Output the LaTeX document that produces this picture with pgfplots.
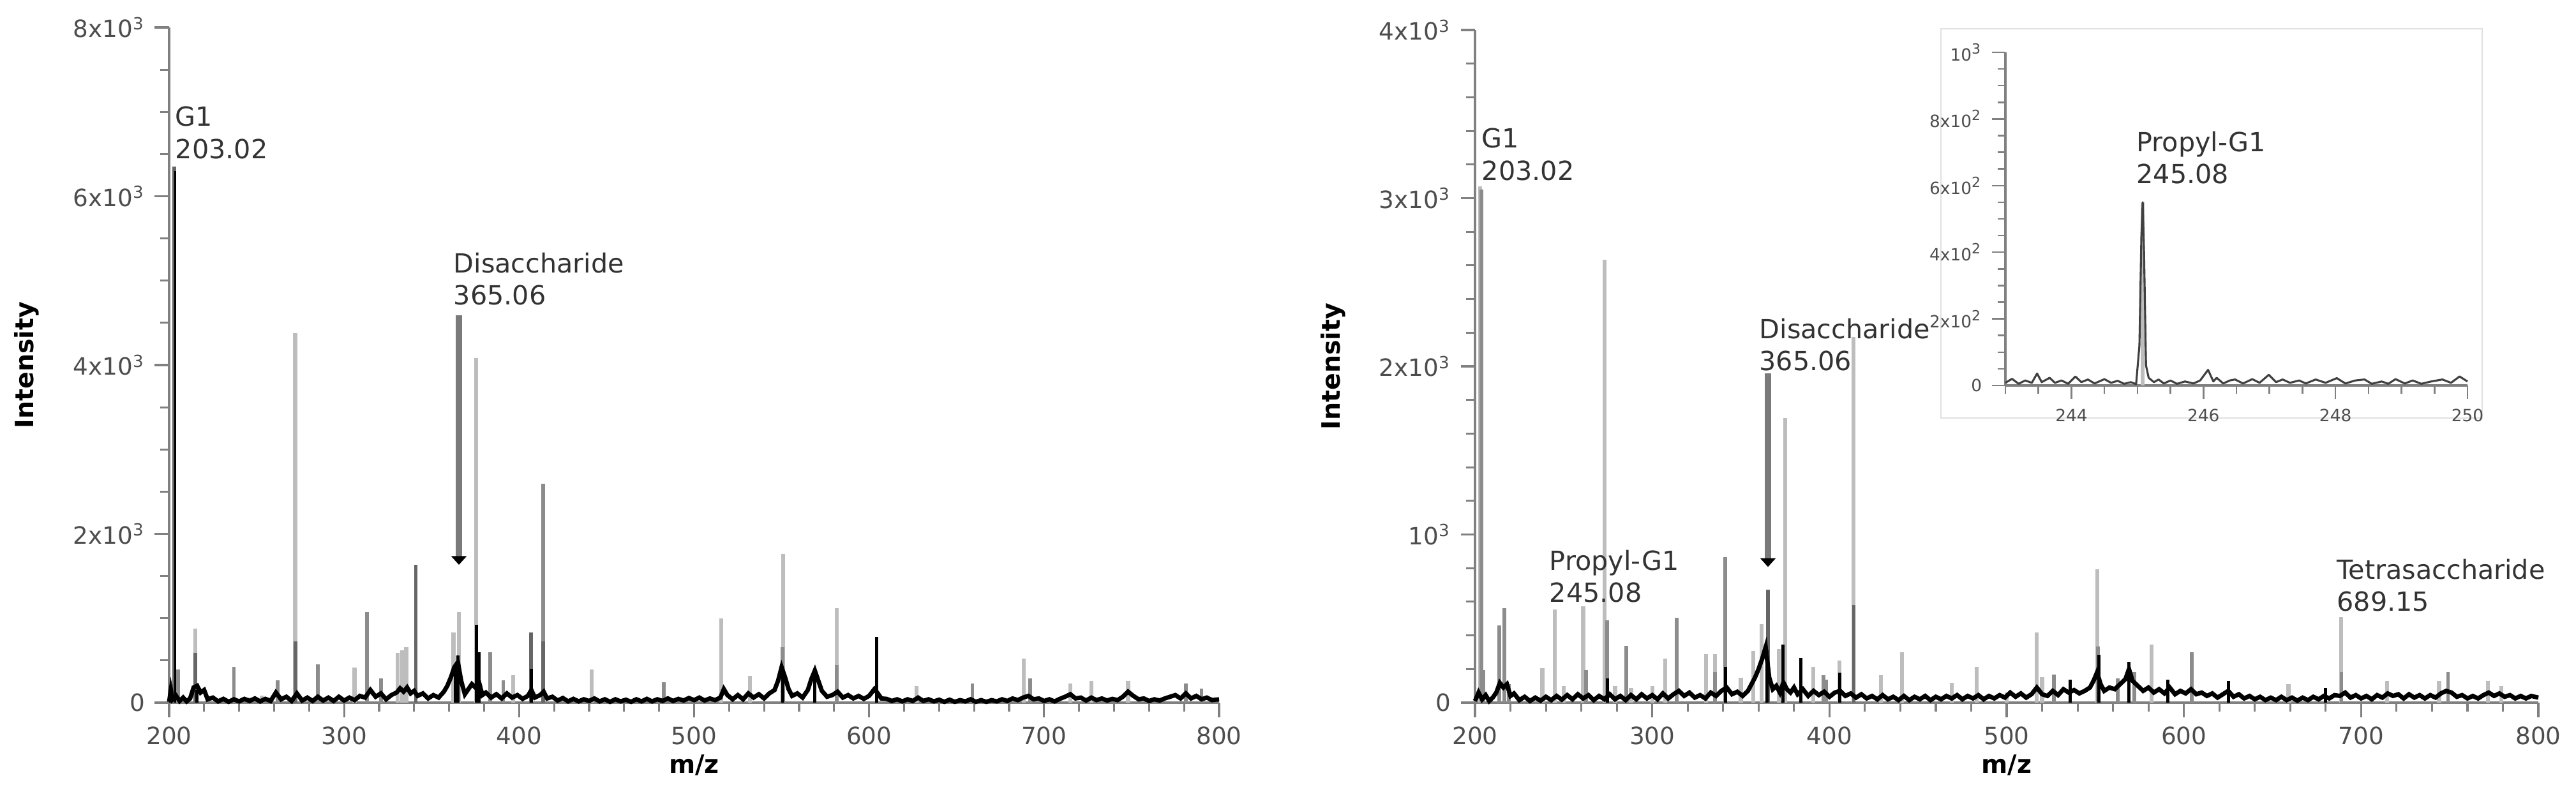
\documentclass[border=0pt]{standalone}
\usepackage{fontspec}
\setmainfont{DejaVu Sans}
\usepackage{pgfplots}
\pgfplotsset{compat=1.18}
\usetikzlibrary{arrows.meta}
\definecolor{axgray}{HTML}{808080}
\definecolor{tklab}{HTML}{4D4D4D}
\definecolor{txt}{HTML}{333333}
\definecolor{lg}{HTML}{BDBDBD}
\definecolor{mg}{HTML}{8C8C8C}
\definecolor{dg}{HTML}{666666}
\definecolor{arrowgray}{HTML}{7A7A7A}

\pgfplotsset{
  msaxis/.style={
    scale only axis, axis x line*=bottom, axis y line*=left,
    axis line style={draw=axgray, line width=0.3mm, -},
    x axis line style={-}, y axis line style={-},
    tick align=outside, tick style={draw=axgray, line width=0.25mm},
    major tick length=1.8mm, minor tick length=1.1mm,
    enlargelimits=false, clip=false,
    tick label style={font=\fontsize{8.5}{10}\selectfont, text=tklab},
    /pgf/number format/assume math mode=true,
    label style={font=\fontsize{9}{11}\selectfont\bfseries, text=black},
  },
  lgs/.style={ycomb, no markers, draw=lg, line width=0.5mm},
  mgs/.style={ycomb, no markers, draw=mg, line width=0.45mm},
  dgs/.style={ycomb, no markers, draw=dg, line width=0.45mm},
  bks/.style={ycomb, no markers, draw=black, line width=0.4mm},
  base/.style={no markers, draw=black, line width=0.55mm, line join=miter},
}
\tikzset{
  lab/.style={anchor=north west, inner sep=0pt, align=left, text=txt,
    font=\fontsize{9.4}{11.5}\selectfont},
  arr/.style={draw=arrowgray, line width=0.75mm,
    -{Triangle[length=1.1mm,width=1.9mm,color=black]}},
}

\begin{document}
\begin{tikzpicture}
\path[use as bounding box] (0,0) rectangle (322.88mm,99.2mm);

% ---------- left spectrum ----------
\begin{axis}[msaxis,
  at={(21.2mm,11.12mm)}, anchor=south west,
  width=131.6mm, height=84.64mm,
  xmin=200, xmax=800, ymin=0, ymax=8000,
  xtick={200,300,...,800}, minor x tick num=4,
  ytick={0,2000,4000,6000,8000},
  yticklabels={0,2x10\textsuperscript{3},4x10\textsuperscript{3},6x10\textsuperscript{3},8x10\textsuperscript{3}},
  minor y tick num=3,
  xlabel={m/z}, ylabel={Intensity},
  xlabel style={at={(axis description cs:0.5,-0.0926)}, anchor=center},
  ylabel style={at={(axis description cs:-0.136,0.5)}, anchor=center},
]
\addplot[lgs] coordinates {
 (215,875) (246,60) (253,80) (272,4380) (306,418) (330.5,590) (333,620)
 (335.5,656) (362.5,830) (365.5,1075) (375.5,4080) (396.5,322) (441.5,397)
 (515.5,1000) (532,320) (550.8,1761) (581.5,1120) (627,194) (688.5,522)
 (715,224) (727,260) (748,254)};
\addplot[mgs] coordinates {
 (205,397) (237,420) (262,262) (285,457) (313,1075) (321,290) (383.5,597)
 (391,268) (413.8,2590) (482.6,245) (550.5,657) (581.5,448) (659,224)
 (692,284) (781,224) (790,164)};
\addplot[dgs] coordinates {
 (203,6350) (215,590) (272.3,725) (341,1636) (406.8,830) (413.8,725)};
\addplot[base] coordinates {
 (200,10)(201,150)(202,40)(204,80)(206,20)(208,60)(210,15)(212,50)(214,180)
 (216,200)(218,120)(220,150)(222,40)(225,60)(228,15)(231,45)(234,10)(237,40)
 (240,15)(243,45)(246,20)(249,50)(252,15)(255,45)(258,20)(261,120)(264,40)
 (267,70)(270,20)(273,110)(276,25)(279,60)(282,20)(285,70)(288,25)(291,60)
 (294,20)(297,70)(300,25)(303,60)(306,30)(309,80)(312,60)(315,150)(318,70)
 (321,110)(324,40)(327,90)(330,120)(332,170)(334,130)(336,180)(338,110)
 (340,140)(342,80)(345,110)(348,50)(351,90)(354,60)(357,130)(359,200)
 (361,300)(363,420)(365,480)(367,250)(369,100)(371,160)(373,220)(375,180)
 (377,250)(379,90)(381,120)(384,60)(387,100)(390,50)(393,110)(396,60)
 (399,90)(402,45)(405,80)(407,150)(409,60)(412,90)(414,130)(416,50)(419,70)
 (422,25)(425,55)(428,15)(431,45)(434,15)(437,40)(440,20)(443,50)(446,15)
 (449,40)(452,10)(455,40)(458,15)(461,35)(464,10)(467,40)(470,15)(473,45)
 (476,15)(479,40)(482,20)(485,50)(488,20)(491,45)(494,25)(497,55)(500,30)
 (503,60)(506,25)(509,50)(512,30)(515,60)(517,160)(519,90)(522,40)(525,90)
 (528,40)(531,110)(534,60)(537,100)(540,50)(543,110)(546,150)(548,260)
 (550,420)(552,300)(554,160)(556,80)(559,110)(562,60)(565,150)(567,280)
 (569,380)(571,260)(573,140)(576,70)(579,90)(582,130)(585,60)(588,90)
 (591,50)(594,80)(597,45)(600,80)(603,160)(605,110)(607,50)(610,45)(613,20)
 (616,40)(619,15)(622,40)(625,20)(628,60)(631,20)(634,40)(637,15)(640,35)
 (643,10)(646,35)(649,10)(652,30)(655,15)(658,40)(661,10)(664,30)(667,10)
 (670,30)(673,15)(676,40)(679,20)(682,50)(685,30)(688,60)(691,80)(694,40)
 (697,50)(700,20)(703,40)(706,15)(709,45)(712,70)(715,100)(718,50)(721,60)
 (724,25)(727,60)(730,30)(733,50)(736,25)(739,45)(742,30)(745,70)(748,130)
 (751,80)(754,40)(757,50)(760,20)(763,40)(766,25)(769,50)(772,70)(775,90)
 (778,50)(781,110)(784,50)(787,80)(790,40)(793,60)(796,30)(800,40)};
\addplot[bks] coordinates {
 (201,140) (216,150) (363.5,420) (365.2,560) (375.8,920)
 (377,600) (407,400) (550.6,418) (569,388) (604.5,776)};
\addplot[ycomb, no markers, draw=black, line width=0.25mm] coordinates {(203.6,6300)};
\node[lab] at (axis cs:203.3,7069) {G1\\203.02};
\node[lab] at (axis cs:362.3,5337) {Disaccharide\\365.06};
\draw[arr] (axis cs:365.6,4590) -- (axis cs:365.6,1633);
\end{axis}

% ---------- right spectrum ----------
\begin{axis}[msaxis,
  at={(184.88mm,11.12mm)}, anchor=south west,
  width=133.28mm, height=84.32mm,
  xmin=200, xmax=800, ymin=0, ymax=4000,
  xtick={200,300,...,800}, minor x tick num=4,
  ytick={0,1000,2000,3000,4000},
  yticklabels={0,10\textsuperscript{3},2x10\textsuperscript{3},3x10\textsuperscript{3},4x10\textsuperscript{3}},
  minor y tick num=4,
  xlabel={m/z}, ylabel={Intensity},
  xlabel style={at={(axis description cs:0.5,-0.0926)}, anchor=center},
  ylabel style={at={(axis description cs:-0.1333,0.5)}, anchor=center},
]
\addplot[lgs] coordinates {
 (203,3070) (238,206) (245.08,554) (250,99) (261,575) (273,2634) (279,99)
 (288,86) (300,99) (307.3,263) (330.4,288) (335.4,288) (350,149) (357,307)
 (361.7,465) (371.5,319) (375.1,1693) (391,214) (405.6,249) (413.5,2175)
 (429,162) (440.9,301) (469,118) (483,213) (500,60) (517,417) (520,150)
 (551,795) (581.7,345) (659,111) (688.7,510) (714.6,130) (744,130)
 (771.5,130) (779,99)};
\addplot[mgs] coordinates {
 (203.6,3050) (204.7,194) (213.7,459) (216.5,560) (219,111) (262.6,194)
 (274.5,490) (285.4,339) (313.7,503) (335.4,181) (341.2,867) (396.6,162)
 (398,136) (526.6,168) (551.5,333) (562.7,143) (572,181) (604.4,301)
 (688.9,181) (749,181)};
\addplot[dgs] coordinates {(365.3,672) (413.8,580)};
\addplot[base] coordinates {
 (200,10)(202,60)(204,20)(206,45)(208,10)(210,30)(212,60)(214,117)(216,90)
 (218,110)(220,40)(222,55)(225,15)(228,35)(231,10)(234,30)(237,12)(240,35)
 (243,15)(246,40)(249,18)(252,45)(255,20)(258,50)(261,25)(264,45)(267,15)
 (270,40)(273,20)(276,50)(279,20)(282,40)(285,15)(288,45)(291,20)(294,50)
 (297,25)(300,45)(303,20)(306,55)(309,25)(312,50)(315,70)(318,40)(321,60)
 (324,30)(327,45)(330,25)(333,60)(336,40)(339,70)(342,90)(345,50)(348,65)
 (351,40)(354,70)(356,110)(358,150)(360,200)(362,260)(364,330)(366,150)
 (368,80)(370,100)(372,60)(374,120)(376,80)(378,60)(380,90)(382,50)(385,80)
 (388,40)(391,70)(394,45)(397,65)(400,35)(403,60)(406,70)(409,40)(412,55)
 (415,30)(418,50)(421,25)(424,40)(427,20)(430,45)(433,20)(436,35)(439,15)
 (442,40)(445,15)(448,35)(451,20)(454,40)(457,15)(460,35)(463,20)(466,40)
 (469,25)(472,45)(475,20)(478,40)(481,25)(484,45)(487,20)(490,40)(493,25)
 (496,45)(499,30)(502,60)(505,35)(508,55)(511,30)(514,50)(517,90)(520,50)
 (523,40)(526,70)(529,45)(532,80)(535,60)(538,75)(541,55)(544,70)(547,90)
 (549,130)(551,180)(553,110)(555,70)(558,90)(561,80)(564,110)(567,140)
 (569,200)(571,130)(574,100)(577,70)(580,90)(583,60)(586,80)(589,55)(592,90)
 (595,50)(598,70)(601,55)(604,80)(607,50)(610,60)(613,40)(616,55)(619,30)
 (622,50)(625,70)(628,35)(631,50)(634,25)(637,40)(640,20)(643,35)(646,15)
 (649,30)(652,15)(655,35)(658,15)(661,30)(664,12)(667,30)(670,15)(673,35)
 (676,20)(679,40)(682,25)(685,45)(688,40)(691,60)(694,30)(697,45)(700,25)
 (703,40)(706,20)(709,45)(712,30)(715,55)(718,40)(721,50)(724,25)(727,50)
 (730,30)(733,45)(736,25)(739,45)(742,30)(745,55)(748,70)(751,60)(754,35)
 (757,45)(760,25)(763,40)(766,25)(769,45)(772,60)(775,40)(778,55)(781,35)
 (784,45)(787,25)(790,40)(793,25)(796,40)(800,30)};
\addplot[bks] coordinates {
 (274.8,143) (341.4,212) (364.7,310) (373.6,345) (384,266) (405.8,179)
 (536,135) (552,285) (569,244) (591,137) (625,130) (680,86)};
\node[lab] at (axis cs:203.6,3419) {G1\\203.02};
\node[lab] at (axis cs:241.8,911) {Propyl-G1\\245.08};
\node[lab] at (axis cs:360.2,2288) {Disaccharide\\365.06};
\node[lab] at (axis cs:686.1,858) {Tetrasaccharide\\689.15};
\draw[arr] (axis cs:365.3,1958) -- (axis cs:365.3,807);
\end{axis}

% ---------- inset ----------
\draw[draw=black!12, fill=white, line width=0.15mm] (243.28mm,46.8mm) rectangle (311.12mm,95.6mm);
\begin{axis}[msaxis,
  at={(251.36mm,50.88mm)}, anchor=south west,
  width=57.92mm, height=41.76mm,
  xmin=243, xmax=250, ymin=0, ymax=1000,
  major tick length=1.7mm, minor tick length=1.0mm,
  tick style={draw=axgray, line width=0.2mm},
  axis line style={line width=0.25mm},
  tick label style={font=\fontsize{6}{7}\selectfont},
  xtick={244,246,248,250}, minor xtick={243,243.5,...,250},
  ytick={0,200,400,600,800,1000}, minor ytick={0,50,...,1000},
  yticklabels={0,2x10\textsuperscript{2},4x10\textsuperscript{2},6x10\textsuperscript{2},8x10\textsuperscript{2},10\textsuperscript{3}},
]
\addplot[ycomb, no markers, draw=lg, line width=0.45mm] coordinates {(245.08,550)};
\addplot[no markers, draw=black!75, line width=0.25mm, line join=round] coordinates {
 (243.0,8)(243.1,20)(243.2,5)(243.3,15)(243.4,8)(243.48,36)(243.55,10)
 (243.67,23)(243.75,8)(243.85,15)(243.95,5)(244.06,27)(244.15,10)(244.25,18)
 (244.35,6)(244.5,19)(244.6,8)(244.7,14)(244.8,5)(244.9,10)(244.98,4)
 (245.03,120)(245.06,450)(245.08,550)(245.10,400)(245.13,60)(245.17,23)
 (245.25,10)(245.32,18)(245.4,6)(245.5,15)(245.6,5)(245.72,12)(245.85,6)
 (245.95,15)(246.07,47)(246.15,12)(246.2,23)(246.3,6)(246.4,15)(246.48,18)
 (246.6,6)(246.74,19)(246.85,8)(246.99,32)(247.1,10)(247.2,18)(247.31,8)
 (247.45,15)(247.55,6)(247.7,18)(247.85,8)(248.02,22)(248.15,6)(248.3,15)
 (248.44,18)(248.55,5)(248.7,12)(248.8,5)(248.91,19)(249.05,6)(249.17,15)
 (249.3,5)(249.45,12)(249.62,18)(249.75,8)(249.88,27)(250.0,12)};
\node[lab] at (axis cs:244.98,764) {Propyl-G1\\245.08};
\end{axis}
\end{tikzpicture}
\end{document}
